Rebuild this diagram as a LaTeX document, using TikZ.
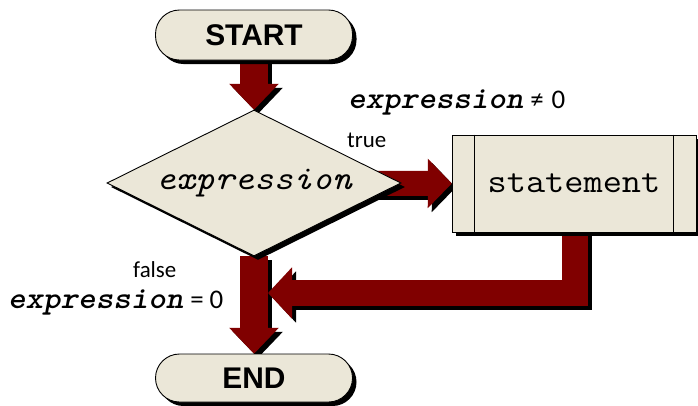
\documentclass[tikz,border=0pt]{standalone}
\usepackage{fontspec}
\usepackage{graphicx}
\usetikzlibrary{arrows.meta,shapes.geometric,shadows}
\newfontfamily\labelfont{Carlito}
\newfontfamily\termfont{Liberation Sans}
\definecolor{boxfill}{HTML}{EBE7D8}
\definecolor{arrowred}{HTML}{800000}

% a broad red flow arrow with a black shadow behind it
\newcommand\fatarrow[2]{%
  \draw[#1, draw=black, transform canvas={xshift=4bp,yshift=-4bp}] #2;
  \draw[#1, draw=arrowred] #2;}
% typewriter text, slightly widened
\newcommand\codetext[2]{\scalebox{1.1}[1]{\ttfamily\fontsize{#1}{#1}\selectfont #2}}
\newcommand\codeboldit[1]{\scalebox{1.08}[1]{\ttfamily\bfseries\itshape\fontsize{31}{34}\selectfont #1}}

\begin{document}
\begin{tikzpicture}[x=1bp,y=-1bp,
  shape base/.style={draw=black, line width=0.9bp, fill=boxfill,
    drop shadow={shadow xshift=4bp, shadow yshift=-4bp, fill=black, opacity=1}},
  terminal/.style={shape base, rectangle, rounded corners=24bp,
    minimum width=197bp, minimum height=50bp, inner sep=0pt,
    font=\termfont\bfseries\fontsize{30}{34}\selectfont},
  decision/.style={shape base, diamond, aspect=2, inner sep=0pt,
    minimum width=294bp, minimum height=146bp},
  process/.style={shape base, rectangle, minimum width=244bp,
    minimum height=97bp, inner sep=0pt},
  flowlabel/.style={inner sep=0pt, anchor=base west,
    font=\labelfont\fontsize{23}{26}\selectfont},
  condlabel/.style={inner sep=0pt, anchor=base west,
    font=\labelfont\fontsize{27}{30}\selectfont},
  flowline/.style={line join=miter},
  vtip/.style={-{Triangle[width=48bp,length=26bp]}},
  htip/.style={-{Triangle[width=48bp,length=24bp]}},
]
\useasboundingbox (0,0) rectangle (698,405);

% node positions
\coordinate (pStart) at (254,35);
\coordinate (pDec)   at (254,183);
\coordinate (pStmt)  at (574,183.5);
\coordinate (pEnd)   at (254,378);

% outlines of the shapes, placed first so the arrows can run between them
\node[inner sep=0, minimum width=197bp, minimum height=50bp] (s0) at (pStart) {};
\node[diamond, aspect=2, inner sep=0pt, minimum width=294bp, minimum height=146bp] (d0) at (pDec) {};
\node[rectangle, inner sep=0pt, minimum width=244bp, minimum height=97bp] (t0) at (pStmt) {};
\node[inner sep=0, minimum width=197bp, minimum height=48bp] (e0) at (pEnd) {};
\coordinate (join) at (268,293);
\coordinate (bend) at (575,232);

% arrows, drawn beneath the shapes
\fatarrow{flowline, line width=28bp, vtip}{(s0.south) -- (d0.north)}
\fatarrow{flowline, line width=25bp, htip}{(d0.center) -- (t0.west)}
\fatarrow{flowline, line width=28bp, vtip}{(d0.south) -- (e0.north)}
\fatarrow{flowline, line width=26bp, -{Triangle[width=50bp,length=24bp]}}{(bend) |- (join)}

% shapes
\node[terminal] (start) at (pStart) {START};
\node[decision] (dec) at (pDec) {\codetext{34}{\itshape expression}};
\node[process] (stmt) at (pStmt) {\codetext{34}{statement}};
\draw[line width=0.9bp] ([xshift=23bp]stmt.north west) -- ([xshift=23bp]stmt.south west);
\draw[line width=0.9bp] ([xshift=-23bp]stmt.north east) -- ([xshift=-23bp]stmt.south east);
\node[terminal, minimum height=48bp] (end) at (pEnd) {END};

% branch labels
\node[flowlabel] (ltrue) at (347,147) {true};
\node[flowlabel] (lfalse) at (133,277) {false};
\node[condlabel] (cne) at (348,108) {\codeboldit{expression}\hspace{7bp}≠\hspace{8bp}0};
\node[condlabel] (ceq) at (8,308) {\codeboldit{expression}\hspace{7bp}=\hspace{6bp}0};
\end{tikzpicture}
\end{document}
